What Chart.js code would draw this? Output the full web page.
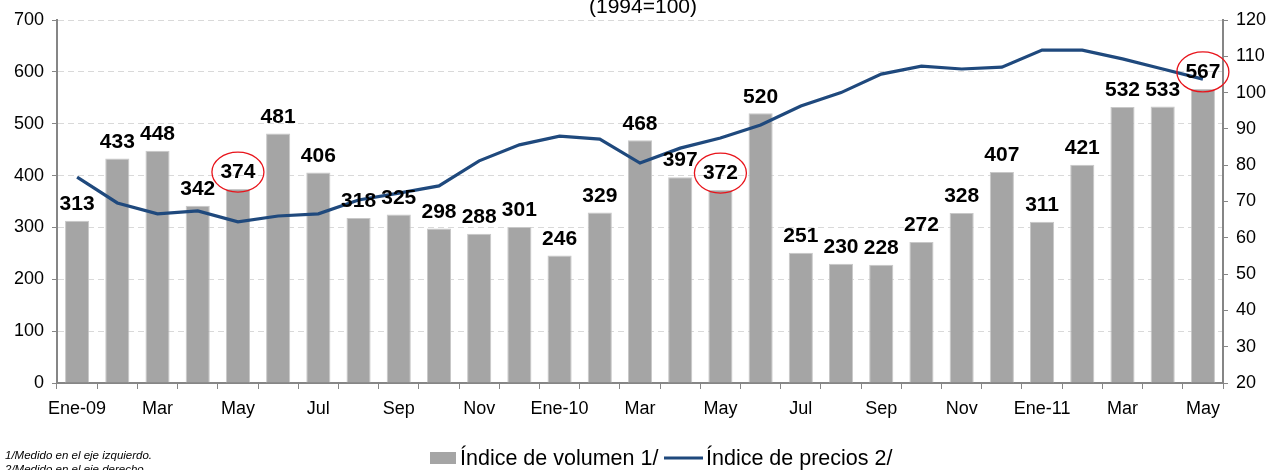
<!DOCTYPE html>
<html>
<head>
<meta charset="utf-8">
<script src="https://cdn.jsdelivr.net/npm/chart.js@4/dist/chart.umd.min.js"></script>
<style>
  html, body { margin: 0; padding: 0; background: #fff; }
  #wrap { position: relative; width: 1277px; height: 470px; }
</style>
</head>
<body>
<div id="wrap"><canvas id="volChart"></canvas></div>
<script>
// months shown on the x axis (only every other one gets a label)
const months = ["Ene-09", "Feb", "Mar", "Abr", "May", "Jun", "Jul", "Ago", "Sep", "Oct", "Nov", "Dic",
  "Ene-10", "Feb", "Mar", "Abr", "May", "Jun", "Jul", "Ago", "Sep", "Oct", "Nov", "Dic",
  "Ene-11", "Feb", "Mar", "Abr", "May"];

// Índice de volumen 1/ (left axis)
const volumen = [313, 433, 448, 342, 374, 481, 406, 318, 325, 298, 288, 301,
  246, 329, 468, 397, 372, 520, 251, 230, 228, 272, 328, 407,
  311, 421, 532, 533, 567];

// Índice de precios 2/ (right axis)
const precios = [76.7, 69.6, 66.6, 67.4, 64.4, 66.0, 66.6, 70.4, 72.3, 74.3, 81.2, 85.6,
  88.0, 87.2, 80.6, 84.7, 87.5, 91.1, 96.3, 100.0, 105.1, 107.3, 106.5, 107.0,
  111.7, 111.7, 109.3, 106.5, 103.7];

// months whose labels are circled in red
const circled = [4, 16, 28];

const axisGray = "#868686";
const gridGray = "#d9d9d9";
const font = "Liberation Sans, Arial, sans-serif";

// value labels, red circles, title, legend and footnotes
const extras = {
  id: "extras",
  afterDatasetsDraw(chart) {
    const ctx = chart.ctx;
    const bars = chart.getDatasetMeta(1).data;
    ctx.save();
    ctx.fillStyle = "#000";
    ctx.font = "bold 21px " + font;
    ctx.textAlign = "center";
    ctx.textBaseline = "bottom";
    bars.forEach(function (bar, i) {
      ctx.fillText(String(volumen[i]), bar.x, bar.y - 6);
    });
    ctx.strokeStyle = "#e8141b";
    ctx.lineWidth = 1.3;
    circled.forEach(function (i) {
      const bar = bars[i];
      ctx.beginPath();
      ctx.ellipse(bar.x, bar.y - 17, 26, 20, 0, 0, Math.PI * 2);
      ctx.stroke();
    });
    ctx.restore();
  },
  afterDraw(chart) {
    const ctx = chart.ctx;
    ctx.save();
    ctx.fillStyle = "#000";
    ctx.textAlign = "center";
    ctx.textBaseline = "alphabetic";
    ctx.font = "21px " + font;
    ctx.fillText("(1994=100)", 643, 13);

    // legend
    ctx.textAlign = "left";
    ctx.textBaseline = "middle";
    ctx.font = "21.5px " + font;
    ctx.fillStyle = "#a5a5a5";
    ctx.fillRect(430, 452, 26, 12);
    ctx.fillStyle = "#000";
    ctx.fillText("Índice de volumen 1/", 460, 459);
    ctx.strokeStyle = "#1f497d";
    ctx.lineWidth = 3;
    ctx.beginPath();
    ctx.moveTo(664, 458);
    ctx.lineTo(703, 458);
    ctx.stroke();
    ctx.fillText("Índice de precios 2/", 706, 459);

    // footnotes (second line runs off the bottom edge)
    ctx.font = "italic 11.5px " + font;
    ctx.textBaseline = "alphabetic";
    ctx.fillText("1/Medido en el eje izquierdo.", 5, 459);
    ctx.fillText("2/Medido en el eje derecho.", 5, 473);
    ctx.restore();
  }
};

new Chart("volChart", {
  data: {
    labels: months,
    datasets: [
      {
        type: "line",
        label: "Índice de precios 2/",
        data: precios,
        yAxisID: "yR",
        borderColor: "#1f497d",
        borderWidth: 3.2,
        pointRadius: 0,
        tension: 0,
        fill: false,
        order: 0,
      },
      {
        type: "bar",
        label: "Índice de volumen 1/",
        data: volumen,
        yAxisID: "yL",
        backgroundColor: "#a5a5a5",
        borderColor: "#c8c8c8",
        borderWidth: 1,
        barPercentage: 0.6,
        categoryPercentage: 1,
        order: 1,
      },
    ],
  },
  options: {
    responsive: true,
    maintainAspectRatio: false,
    animation: false,
    layout: { padding: { top: 20, left: 0, right: 0, bottom: 0 } },
    plugins: {
      legend: { display: false },
      tooltip: { enabled: false },
    },
    scales: {
      x: {
        offset: true,
        grid: { offset: true, drawOnChartArea: false, tickLength: 6, tickColor: axisGray },
        border: { color: axisGray, width: 2 },
        ticks: {
          autoSkip: false,
          maxRotation: 0,
          padding: 9,
          color: "#000",
          font: { family: font, size: 18 },
          callback: function (v, i) { return i % 2 === 0 ? months[i] : ""; },
        },
        afterFit: function (s) { s.height = 87; },
      },
      yL: {
        position: "left",
        min: 0,
        max: 700,
        ticks: { stepSize: 100, padding: 8, color: "#000", font: { family: font, size: 18 } },
        grid: { color: gridGray, tickColor: axisGray, tickLength: 5, tickBorderDash: [] },
        border: { color: axisGray, width: 2, dash: [6, 4] },
        afterFit: function (s) { s.width = 57; },
      },
      yR: {
        position: "right",
        min: 20,
        max: 120,
        ticks: { stepSize: 10, padding: 8, color: "#000", font: { family: font, size: 18 } },
        grid: { drawOnChartArea: false, tickColor: axisGray, tickLength: 5 },
        border: { color: axisGray, width: 2 },
        afterFit: function (s) { s.width = 54; },
      },
    },
  },
  plugins: [extras],
});
</script>
</body>
</html>
